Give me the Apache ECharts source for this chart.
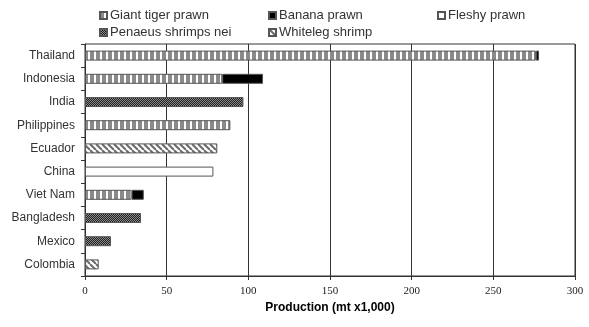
<!DOCTYPE html>
<html>
<head>
<meta charset="utf-8">
<script src="https://cdn.jsdelivr.net/npm/echarts@6/dist/echarts.min.js"></script>
<style>
  html, body { margin: 0; padding: 0; background: #fff; }
  #chart { width: 589px; height: 327px; }
</style>
</head>
<body>
<div id="chart"></div>
<script>
const countries = ['Thailand', 'Indonesia', 'India', 'Philippines', 'Ecuador', 'China', 'Viet Nam', 'Bangladesh', 'Mexico', 'Colombia'];
const giantTiger = [276, 84, null, 89, null, null, 28.5, null, null, null];
const banana = [2, 25, null, null, null, null, 7.5, null, null, null];
const fleshy = [null, null, null, null, null, 78.6, null, null, null, null];
const penaeus = [null, null, 97, null, null, null, null, 34.3, 15.9, null];
const whiteleg = [null, null, null, null, 81, null, null, null, null, 8.4];
const xTicks = [0, 50, 100, 150, 200, 250, 300];

function pattern(w, h, draw) {
  let c = document.createElement('canvas');
  c.width = w;
  c.height = h;
  let ctx = c.getContext('2d');
  draw(ctx);
  return { image: c, repeat: 'repeat' };
}

// fills that mimic the old spreadsheet hatches
let stripeFill = pattern(6, 6, (ctx) => {
  ctx.fillStyle = '#ffffff';
  ctx.fillRect(0, 0, 6, 6);
  ctx.fillStyle = '#8a8a8a';
  ctx.fillRect(0, 0, 4, 6);
});
let dotFill = pattern(2, 2, (ctx) => {
  ctx.fillStyle = '#202020';
  ctx.fillRect(0, 0, 2, 2);
  ctx.fillStyle = '#8a8a8a';
  ctx.fillRect(0, 0, 1, 1);
  ctx.fillRect(1, 1, 1, 1);
});
let hatchFill = pattern(6, 6, (ctx) => {
  ctx.fillStyle = '#ffffff';
  ctx.fillRect(0, 0, 6, 6);
  ctx.strokeStyle = '#6a6a6a';
  ctx.lineWidth = 2;
  [-6, 0, 6].forEach((o) => {
    ctx.beginPath();
    ctx.moveTo(o, 0);
    ctx.lineTo(o + 6, 6);
    ctx.stroke();
  });
});

function barSeries(name, data, fill) {
  return {
    name: name,
    type: 'bar',
    stack: 'total',
    barWidth: 10,
    data: data,
    itemStyle: { color: fill, borderColor: '#555555', borderWidth: 1 }
  };
}

function legendAt(name, left, top) {
  return {
    data: [name],
    left: left,
    top: top,
    padding: 0,
    icon: 'rect',
    itemWidth: 7,
    itemHeight: 7,
    itemGap: 4,
    textStyle: { fontFamily: 'Liberation Sans', fontSize: 13, color: '#333333', padding: [0, 0, 0, -2] }
  };
}

let myChart = echarts.init(document.querySelector('#chart'));

let option = {
  animation: false,
  legend: [
    legendAt('Giant tiger prawn', 99, 9),
    legendAt('Banana prawn', 268, 9),
    legendAt('Fleshy prawn', 437, 9),
    legendAt('Penaeus shrimps nei', 99, 26),
    legendAt('Whiteleg shrimp', 268, 26)
  ],
  grid: {
    left: 85,
    right: 14,
    top: 44,
    bottom: 51,
    show: true,
    borderColor: '#333333',
    borderWidth: 1
  },
  xAxis: {
    type: 'value',
    min: xTicks[0],
    max: xTicks[xTicks.length - 1],
    interval: 50,
    name: 'Production (mt x1,000)',
    nameLocation: 'middle',
    nameGap: 26,
    nameTextStyle: { fontFamily: 'Liberation Sans', fontWeight: 'bold', fontSize: 12, color: '#000000' },
    axisLine: { show: true, lineStyle: { color: '#333333' } },
    axisTick: { show: true, length: 4, lineStyle: { color: '#333333' } },
    axisLabel: { fontFamily: 'Liberation Serif', fontSize: 11, color: '#222222', margin: 10 },
    splitLine: { show: true, lineStyle: { color: '#333333', width: 1 } }
  },
  yAxis: {
    type: 'category',
    inverse: true,
    data: countries,
    axisLine: { show: true, lineStyle: { color: '#333333' } },
    axisTick: { show: true, length: 4, lineStyle: { color: '#333333' } },
    axisLabel: { fontFamily: 'Liberation Sans', fontSize: 12, color: '#333333', margin: 10 }
  },
  series: [
    barSeries('Giant tiger prawn', giantTiger, stripeFill),
    barSeries('Banana prawn', banana, '#000000'),
    barSeries('Fleshy prawn', fleshy, '#ffffff'),
    barSeries('Penaeus shrimps nei', penaeus, dotFill),
    barSeries('Whiteleg shrimp', whiteleg, hatchFill)
  ]
};

myChart.setOption(option);
</script>
</body>
</html>
